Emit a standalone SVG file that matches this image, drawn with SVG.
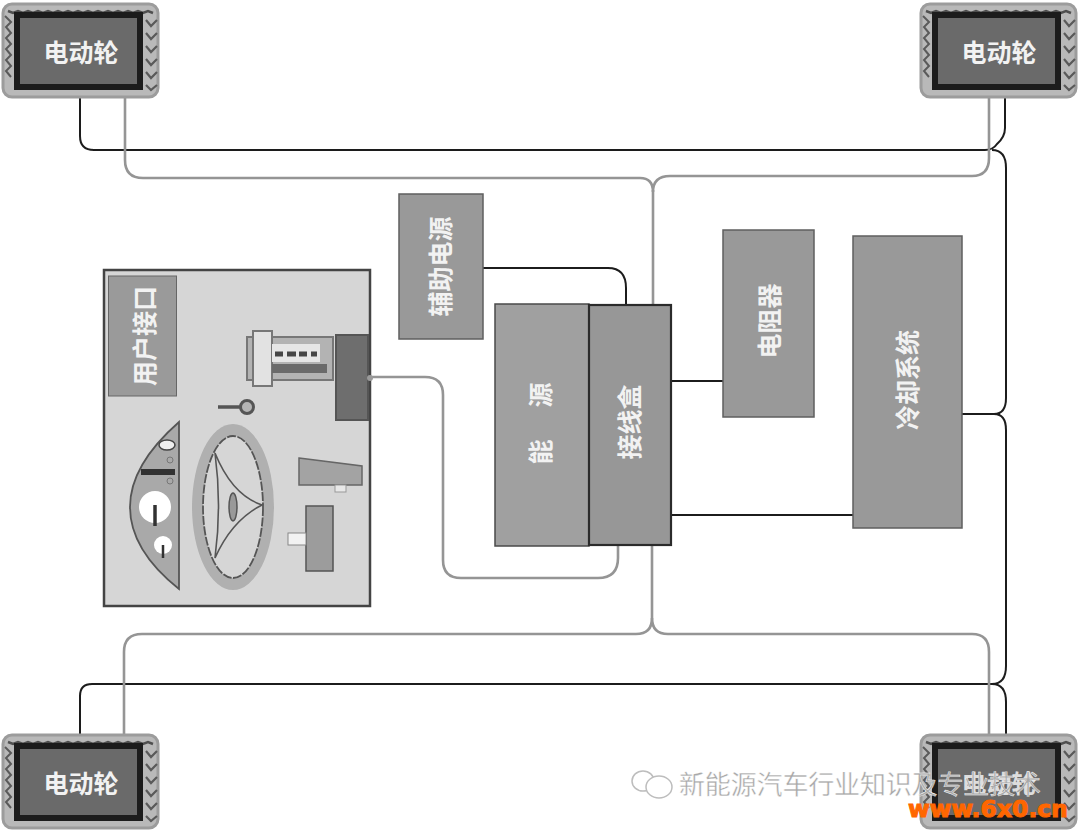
<svg xmlns="http://www.w3.org/2000/svg" width="1080" height="831" viewBox="0 0 1080 831">
<style>
text{font-family:"Noto Sans CJK SC","Liberation Sans",sans-serif;fill:#f2f2f2;text-anchor:middle;font-weight:700}
.box{fill:#999;stroke:#5f5f5f;stroke-width:1.5}
.dark{stroke:#1d1d1d;stroke-width:2;fill:none}
.gray{stroke:#959595;stroke-width:2.6;fill:none}
.lbl{font-size:25px}
.wm{font-family:"Noto Sans CJK SC",sans-serif;font-weight:400;font-size:26px;fill:#a8a8a8;stroke:#fff;stroke-width:.4;text-anchor:start}
.ln{stroke:#555;stroke-width:1.6;fill:none}
</style>
<defs>
<filter id="soft" x="-5%" y="-5%" width="110%" height="110%"><feGaussianBlur stdDeviation="0.6"/></filter>
<g id="wheelBody" filter="url(#soft)">
<rect x="3" y="4" width="155" height="93" rx="9" fill="#b9b9b9" stroke="#9c9c9c" stroke-width="3"/>
<path d="M8 11l5 2 5-2 5 2 5-2 5 2 5-2 5 2 5-2 5 2 5-2 5 2 5-2 5 2 5-2 5 2 5-2 5 2 5-2 5 2 5-2 5 2 5-2 5 2 5-2 5 2 5-2 5 2 5-2 5 2" fill="none" stroke="#4f4f4f" stroke-width="2.500"/>
<path d="M5 16l6 6 -5 5 5 6 -5 5 5 6 -5 5 5 6 -5 5 5 6 -5 5 5 6" fill="none" stroke="#5a5a5a" stroke-width="2"/>
<path d="M146 20l5 6 6-6M146 33l5 6 6-6M146 46l5 6 6-6M146 59l5 6 6-6M146 72l5 6 6-6M146 85l5 5 6-5" fill="none" stroke="#5a5a5a" stroke-width="2.200"/>
<rect x="17" y="15" width="123" height="72" fill="#6b6b6b" stroke="#1f1f1f" stroke-width="6"/>
</g>
</defs>
<rect width="1080" height="831" fill="#fff"/>

<g id="connectors" filter="url(#soft)">
<path class="dark" d="M80 90V136Q80 150 94 150H985Q993 150 997 144Q1005 137 1005 128V90"/>
<path class="dark" d="M992 150Q1006 150 1006 168V398Q1006 414 994 414Q1006 414 1006 430V666Q1006 684 992 684Q1006 684 1006 702V745"/>
<path class="dark" d="M80 743V696Q80 684 92 684H992"/>
<path class="dark" d="M962 414H994"/>
<path class="dark" d="M483 268H608Q626 268 626 288V306"/>
<path class="dark" d="M671 381H723M671 515H853"/>
<path class="gray" d="M125 90V160Q125 178 143 178H640Q653 178 653 192Q653 176 670 176H972Q989 176 989 158V92"/>
<path class="gray" d="M653 190V305"/>
<path class="gray" d="M652 545V618Q652 634 668 634H972Q989 634 989 652V745"/>
<path class="gray" d="M652 618Q652 634 636 634H142Q124 634 124 652V743"/>
<path class="gray" d="M371 377H425Q443 377 443 395V560Q443 578 461 578H598Q618 578 618 558V545"/>
</g>

<g id="wheel-tl"><use href="#wheelBody"/><text class="lbl" x="81" y="62">电动轮</text></g>
<g id="wheel-tr"><use href="#wheelBody" x="918"/><text class="lbl" x="999" y="62">电动轮</text></g>
<g id="wheel-bl"><use href="#wheelBody" y="731"/><text class="lbl" x="81" y="793">电动轮</text></g>
<g id="wheel-br"><use href="#wheelBody" x="918" y="731"/></g>

<g id="aux-power">
<rect class="box" x="399" y="194" width="84" height="145"/>
<text class="lbl" transform="translate(450 266.500) rotate(-90)">辅助电源</text>
</g>
<g id="energy">
<rect x="495" y="304" width="94" height="242" fill="#a0a0a0" stroke="#4a4a4a" stroke-width="1.500"/>
<text class="lbl" transform="translate(550 395) rotate(-90)">源</text>
<text class="lbl" transform="translate(550 452) rotate(-90)">能</text>
</g>
<g id="junction">
<rect x="589" y="305" width="82" height="240" fill="#979797" stroke="#2b2b2b" stroke-width="2.200"/>
<text class="lbl" transform="translate(639 422) rotate(-90)">接线盒</text>
</g>
<g id="resistor">
<rect class="box" x="723" y="230" width="91" height="187"/>
<text class="lbl" transform="translate(779 321) rotate(-90)">电阻器</text>
</g>
<g id="cooling">
<rect class="box" x="853" y="236" width="109" height="292"/>
<text class="lbl" transform="translate(917 380) rotate(-90)">冷却系统</text>
</g>

<g id="user-interface">
<rect x="104" y="270" width="266" height="336" fill="#d6d6d6" stroke="#444" stroke-width="2.500"/>
<rect x="108.500" y="276" width="68" height="120" fill="#9a9a9a" stroke="#666"/>
<text class="lbl" transform="translate(154 336) rotate(-90)">用户接口</text>
<g filter="url(#soft)">
<rect x="336" y="335" width="32" height="85" fill="#6e6e6e" stroke="#555" stroke-width="2"/>
<circle cx="370" cy="378" r="3" fill="#9a9a9a"/>
<rect x="247" y="337" width="86" height="43" fill="#b3b3b3" stroke="#777" stroke-width="2"/>
<rect x="253" y="331" width="19" height="55" fill="#e2e2e2" stroke="#777" stroke-width="2"/>
<rect x="272" y="344" width="48" height="18" fill="#e6e6e6"/>
<path d="M275 354h8M287 354h9M299 354h8M311 354h6" stroke="#444" stroke-width="5"/>
<rect x="272" y="364" width="55" height="9" fill="#6b6b6b"/>
<path d="M218 407H240" stroke="#555" stroke-width="3.500"/>
<circle cx="247" cy="407" r="6.500" fill="#b5b5b5" stroke="#555" stroke-width="3"/>
<path d="M179 422V589Q130 550 130 507Q130 465 179 422Z" fill="#a9a9a9" stroke="#555" stroke-width="1.800"/>
<ellipse cx="167" cy="445" rx="8" ry="5" fill="#eee" stroke="#444" stroke-width="1.500"/>
<rect x="141" y="469" width="34" height="6" fill="#333"/>
<circle cx="170" cy="460" r="3" fill="none" stroke="#777"/><circle cx="170" cy="481" r="3" fill="none" stroke="#777"/>
<circle cx="155" cy="507" r="16" fill="#fff"/><path d="M155 505V526" stroke="#333" stroke-width="3.500"/>
<circle cx="163" cy="545" r="9" fill="#fff"/><path d="M163 545V558" stroke="#333" stroke-width="2.500"/>
<ellipse cx="233" cy="507" rx="41" ry="83" fill="#b0b0b0"/>
<ellipse cx="233" cy="507" rx="30" ry="71" fill="#d6d6d6" stroke="#555" stroke-width="1.800" stroke-dasharray="9 1.500"/>
<path class="ln" d="M215 453Q232 495 262 505Q232 520 215 558Q222 505 215 453Z"/>
<ellipse cx="233" cy="507" rx="4" ry="14" fill="#999" stroke="#555" stroke-width="1.500"/>
<path d="M299 458L362 466V485H299Z" fill="#a3a3a3" stroke="#666" stroke-width="1.500"/>
<rect x="335" y="485" width="11" height="7" fill="#e8e8e8" stroke="#999"/>
<rect x="306" y="506" width="27" height="65" fill="#9c9c9c" stroke="#555" stroke-width="1.500"/>
<rect x="288" y="533" width="18" height="12" fill="#f2f2f2" stroke="#888"/>
</g>
</g>

<g id="watermark">
<text class="lbl" x="999" y="793" style="fill:#ddd">电动轮</text>
<g fill="#fff" stroke="#bdbdbd" stroke-width="1.500">
<ellipse cx="643" cy="781" rx="11" ry="10"/>
<ellipse cx="659" cy="787" rx="13" ry="11"/>
</g>
<text class="wm" x="679" y="794" textLength="362">新能源汽车行业知识及专业技术</text>
<text x="988" y="817" textLength="160" lengthAdjust="spacingAndGlyphs" style="font-family:'DejaVu Sans',sans-serif;font-weight:700;font-size:23px;fill:#ff6600;stroke:#ff6600;stroke-width:1">www.6x0.cn</text>
</g>
</svg>
